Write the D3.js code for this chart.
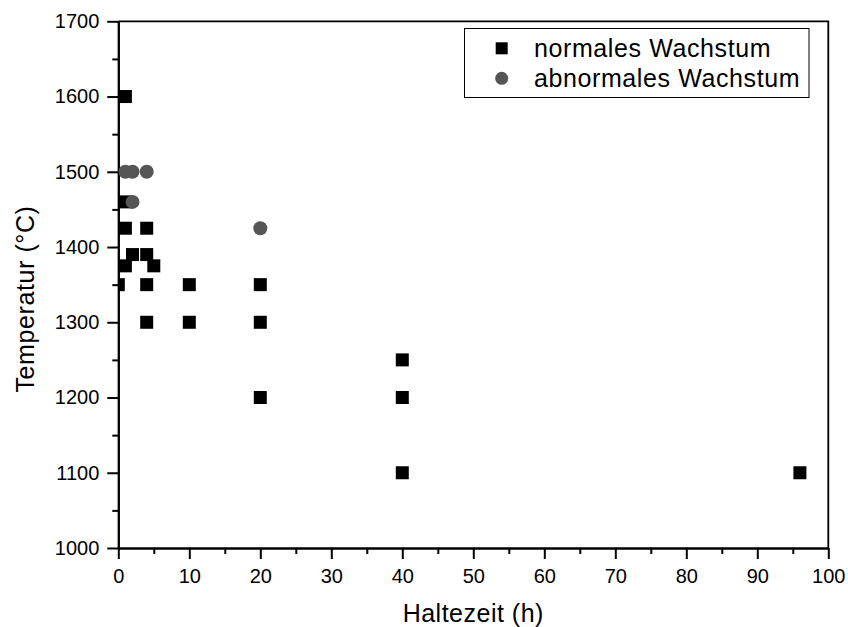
<!DOCTYPE html>
<html>
<head>
<meta charset="utf-8">
<script src="https://cdn.jsdelivr.net/npm/d3@7"></script>
<style>
  html, body { margin: 0; padding: 0; background: #fff; }
  svg { display: block; font-family: "Liberation Sans", Arial, sans-serif; }
</style>
</head>
<body>
<svg id="chart" width="848" height="627"></svg>
<script>
// Holding time (h) and temperature (°C) for each sample
const normalTime = [1, 1, 1, 4, 2, 4, 1, 5, 0, 4, 10, 20, 4, 10, 20, 40, 20, 40, 40, 96];
const normalTemp = [1600, 1460, 1425, 1425, 1390, 1390, 1375, 1375, 1350, 1350, 1350, 1350, 1300, 1300, 1300, 1250, 1200, 1200, 1100, 1100];
const abnormalTime = [1, 2, 4, 2, 20];
const abnormalTemp = [1500, 1500, 1500, 1460, 1425];

const xTicks = [0, 10, 20, 30, 40, 50, 60, 70, 80, 90, 100];
const xMinorTicks = [5, 15, 25, 35, 45, 55, 65, 75, 85, 95];
const yTicks = [1000, 1100, 1200, 1300, 1400, 1500, 1600, 1700];
const yMinorTicks = [1050, 1150, 1250, 1350, 1450, 1550, 1650];

const seriesNames = ["normales Wachstum", "abnormales Wachstum"];
const xTitle = "Haltezeit (h)";
const yTitle = "Temperatur (°C)";

const normal = normalTime.map((t, i) => ({ t, T: normalTemp[i] }));
const abnormal = abnormalTime.map((t, i) => ({ t, T: abnormalTemp[i] }));

const svg = d3.select("#chart");
const plotLeft = 118.3, plotRight = 828.3, plotTop = 21.3, plotBottom = 548;
const fontFamily = '"Liberation Sans", Arial, sans-serif';

const x = d3.scaleLinear().domain([0, 100]).range([plotLeft, plotRight]);
const y = d3.scaleLinear().domain([1000, 1700]).range([plotBottom, plotTop]);

svg.append("defs").append("clipPath").attr("id", "plotClip")
  .append("rect").attr("x", plotLeft).attr("y", plotTop)
  .attr("width", plotRight - plotLeft).attr("height", plotBottom - plotTop);

// frame (top and right)
svg.append("path")
  .attr("d", `M${plotLeft},${plotTop}H${plotRight}V${plotBottom}`)
  .attr("fill", "none").attr("stroke", "#000").attr("stroke-width", 1.8);

// minor ticks
const xMinor = svg.append("g").attr("transform", `translate(0,${plotBottom})`)
  .call(d3.axisBottom(x).tickValues(xMinorTicks).tickSize(6).tickSizeOuter(0).tickFormat(""));
const yMinor = svg.append("g").attr("transform", `translate(${plotLeft},0)`)
  .call(d3.axisLeft(y).tickValues(yMinorTicks).tickSize(6).tickSizeOuter(0).tickFormat(""));

// major axes
const xAxis = svg.append("g").attr("transform", `translate(0,${plotBottom})`)
  .call(d3.axisBottom(x).tickValues(xTicks).tickSize(11).tickSizeOuter(0)
    .tickPadding(10).tickFormat(d3.format("d")));
const yAxis = svg.append("g").attr("transform", `translate(${plotLeft},0)`)
  .call(d3.axisLeft(y).tickValues(yTicks).tickSize(11).tickSizeOuter(0)
    .tickPadding(8).tickFormat(d3.format("d")));

[xMinor, yMinor, xAxis, yAxis].forEach(g => {
  g.attr("font-family", fontFamily).attr("font-size", 20);
  g.selectAll("path, line").attr("stroke", "#000").attr("stroke-width", 2);
  g.selectAll("text").attr("fill", "#000");
});

// axis titles
svg.append("text")
  .attr("x", (plotLeft + plotRight) / 2).attr("y", 622)
  .attr("text-anchor", "middle").style("font-size", "25px")
  .style("letter-spacing", "0.5px")
  .text(xTitle);
svg.append("text")
  .attr("transform", `translate(33.5,299) rotate(-90)`)
  .attr("text-anchor", "middle").style("font-size", "25px")
  .style("letter-spacing", "0.6px")
  .text(yTitle);

// data markers
const plot = svg.append("g").attr("clip-path", "url(#plotClip)");
const sq = 13;
plot.selectAll("rect.normal").data(normal).join("rect")
  .attr("class", "normal")
  .attr("x", d => x(d.t) - sq / 2).attr("y", d => y(d.T) - sq / 2)
  .attr("width", sq).attr("height", sq).attr("fill", "#000");
plot.selectAll("circle.abnormal").data(abnormal).join("circle")
  .attr("class", "abnormal")
  .attr("cx", d => x(d.t)).attr("cy", d => y(d.T))
  .attr("r", 7).attr("fill", "#555");

// legend
const legend = svg.append("g");
legend.append("rect")
  .attr("x", 464.5).attr("y", 28.5).attr("width", 344.5).attr("height", 69)
  .attr("fill", "#fff").attr("stroke", "#000").attr("stroke-width", 1);
legend.append("rect")
  .attr("x", 501.7 - 6).attr("y", 48.3 - 6).attr("width", 12).attr("height", 12)
  .attr("fill", "#000");
legend.append("circle")
  .attr("cx", 501.7).attr("cy", 78.3).attr("r", 6.5).attr("fill", "#555");
legend.selectAll("text.lg").data(seriesNames).join("text")
  .attr("class", "lg")
  .attr("x", 534).attr("y", (d, i) => 56.7 + i * 30.5)
  .style("font-size", "25px")
  .style("letter-spacing", "0.6px")
  .text(d => d);
</script>
</body>
</html>
